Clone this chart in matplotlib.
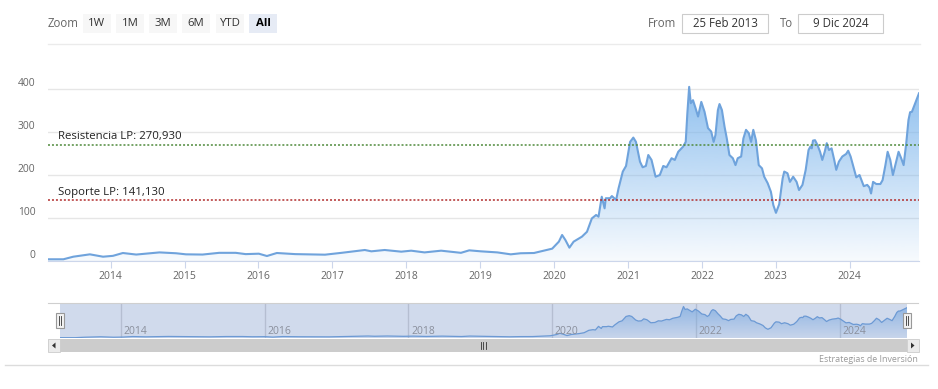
import numpy as np
import pandas as pd
import matplotlib
matplotlib.use("Agg")
from matplotlib import pyplot as plt
import matplotlib.dates as mdates
from matplotlib.colors import to_rgb
from matplotlib.patches import Rectangle, Polygon
from matplotlib.transforms import blended_transform_factory

plt.rcParams["font.family"] = ["Open Sans", "DejaVu Sans"]

# chart data ------------------------------
dates = [
    "2013-02-25", "2013-05-12", "2013-06-30", "2013-09-20", "2013-11-24",
    "2014-01-12", "2014-03-02", "2014-05-07", "2014-08-30", "2014-11-20",
    "2015-01-08", "2015-03-31", "2015-06-21", "2015-09-11", "2015-10-30",
    "2016-01-03", "2016-02-12", "2016-04-01", "2016-07-01", "2016-11-25",
    "2017-02-15", "2017-06-10", "2017-07-12", "2017-09-16", "2017-12-07",
    "2018-01-25", "2018-04-01", "2018-06-22", "2018-09-28", "2018-11-08",
    "2019-01-04", "2019-03-27", "2019-06-01", "2019-07-20", "2019-09-24",
    "2019-11-12", "2019-12-23", "2020-01-25", "2020-02-10", "2020-02-26",
    "2020-03-17", "2020-04-07", "2020-05-18", "2020-06-12", "2020-07-06",
    "2020-07-27", "2020-08-08", "2020-08-24", "2020-09-07", "2020-09-13",
    "2020-10-04", "2020-10-13", "2020-11-03", "2020-11-15", "2020-12-06",
    "2020-12-22", "2021-01-11", "2021-01-27", "2021-02-09", "2021-03-01",
    "2021-03-14", "2021-03-30", "2021-04-11", "2021-04-27", "2021-05-17",
    "2021-06-07", "2021-06-24", "2021-07-10", "2021-08-04", "2021-08-20",
    "2021-09-06", "2021-09-30", "2021-10-13", "2021-10-21", "2021-10-30",
    "2021-11-07", "2021-11-18", "2021-12-01", "2021-12-13", "2021-12-29",
    "2022-01-14", "2022-01-31", "2022-02-16", "2022-02-28", "2022-03-09",
    "2022-03-21", "2022-03-29", "2022-04-10", "2022-04-23", "2022-05-04",
    "2022-05-17", "2022-06-03", "2022-06-16", "2022-06-27", "2022-07-14",
    "2022-07-25", "2022-08-07", "2022-08-21", "2022-09-01", "2022-09-12",
    "2022-09-25", "2022-10-09", "2022-10-25", "2022-11-05", "2022-11-22",
    "2022-12-08", "2022-12-20", "2023-01-02", "2023-01-18", "2023-02-04",
    "2023-02-12", "2023-02-28", "2023-03-12", "2023-03-28", "2023-04-14",
    "2023-04-26", "2023-05-13", "2023-05-29", "2023-06-12", "2023-06-21",
    "2023-06-28", "2023-07-04", "2023-07-14", "2023-07-26", "2023-08-08",
    "2023-08-19", "2023-08-31", "2023-09-10", "2023-09-21", "2023-10-04",
    "2023-10-17", "2023-10-27", "2023-11-09", "2023-11-26", "2023-12-15",
    "2023-12-25", "2024-01-06", "2024-01-22", "2024-02-03", "2024-02-19",
    "2024-03-03", "2024-03-11", "2024-03-28", "2024-04-08", "2024-04-16",
    "2024-04-26", "2024-05-12", "2024-06-01", "2024-06-12", "2024-06-26",
    "2024-07-07", "2024-07-20", "2024-08-02", "2024-08-14", "2024-08-30",
    "2024-09-12", "2024-09-24", "2024-10-07", "2024-10-18", "2024-10-26",
    "2024-11-04", "2024-12-09",
]
prices = [
    4, 4, 10, 15.5, 10,
    12, 18.6, 15, 20, 18,
    15.5, 15, 19, 19, 16,
    17, 11.6, 18.6, 16, 14.7,
    19, 25.6, 22.5, 25.6, 21.7,
    24, 20, 24, 19, 24.8,
    22.5, 20, 15.5, 18, 18.6,
    24, 28.7, 45, 60.5, 49,
    31, 45, 56.6, 68, 99,
    107, 103, 149.5, 122.5, 146,
    146, 151, 142, 169, 208,
    221, 277, 287, 277, 231,
    218, 221, 246.5, 235, 196,
    200, 221, 218, 239, 235,
    254, 266, 277, 343, 405,
    367, 374, 355, 336, 370,
    347, 309, 301, 277, 293,
    351, 365, 351, 312, 285,
    246.5, 239, 223, 239, 243,
    285, 305, 297, 277, 305,
    281, 223, 215.5, 196, 181,
    161, 130, 112, 132, 192,
    208, 204, 184, 196, 184,
    165, 177, 212, 258, 266,
    262, 280, 281, 270, 254,
    235, 254, 274, 258, 262,
    235, 212, 231, 243, 249,
    256.5, 243, 215.5, 194.6, 200,
    184, 174, 177, 171, 157,
    184, 179, 179, 188, 223,
    254, 235, 200, 223, 254,
    239, 223, 274, 328, 346,
    347, 390,
]
resistance = 270.93
support = 141.13
resistance_label = "Resistencia LP: 270,930"
support_label = "Soporte LP: 141,130"
y_ticks = [0, 100, 200, 300, 400]
main_years = list(range(2014, 2025))
nav_years = [2014, 2016, 2018, 2020, 2022, 2024]
zoom_buttons = ["1W", "1M", "3M", "6M", "YTD", "All"]
date_from = "25 Feb 2013"
date_to = "9 Dic 2024"
credit = "Estrategias de Inversión"

# colours -----
line_color = "#6fa3dc"
fill_color = "#7cb5ec"
grid_color = "#e6e6e6"
axis_color = "#ccd6eb"
label_color = "#666666"

W, H = 938, 389
x = mdates.date2num(pd.to_datetime(dates))
y = np.array(prices, dtype=float)


def px_box(left, top, right, bottom):
    """pixel box -> figure fraction [l, b, w, h]"""
    return [left / W, 1 - bottom / H, (right - left) / W, (bottom - top) / H]


def gradient_area(ax, xs, ys, ymax, a_top, a_bottom, z=1):
    poly = Polygon(np.column_stack([np.r_[xs[0], xs, xs[-1]], np.r_[0, ys, 0]]),
                   closed=True, facecolor="none", edgecolor="none")
    ax.add_patch(poly)
    rgba = np.zeros((256, 1, 4))
    rgba[..., :3] = to_rgb(fill_color)
    rgba[:, 0, 3] = np.linspace(a_top, a_bottom, 256)
    im = ax.imshow(rgba, extent=[xs[0], xs[-1], 0, ymax], aspect="auto",
                   origin="upper", zorder=z, interpolation="bilinear")
    im.set_clip_path(poly)


fig = plt.figure(figsize=(W / 100, H / 100), dpi=100)

# main chart -----
ymax = (261 - 75) / 0.43
ax = fig.add_axes(px_box(48, 75, 919, 261))
gradient_area(ax, x, y, ymax, 0.9, 0.06)
ax.plot(x, y, color=line_color, lw=1.5, zorder=3)
ax.axhline(resistance, color="#4f8a3c", lw=1.1, ls=(0, (1.3, 1.3)), zorder=4)
ax.axhline(support, color="#b22d2d", lw=1.1, ls=(0, (1.3, 1.3)), zorder=4)
ax.annotate(resistance_label, xy=(0, resistance), xycoords=("axes fraction", "data"),
            xytext=(7.5, 1.5), textcoords="offset points", va="bottom",
            fontsize=8.2, color="#222222", zorder=5)
ax.annotate(support_label, xy=(0, support), xycoords=("axes fraction", "data"),
            xytext=(7.5, 1.5), textcoords="offset points", va="bottom",
            fontsize=8.2, color="#222222", zorder=5)
ax.set_xlim(x[0], x[-1])
ax.set_ylim(0, ymax)
ax.set_yticks(y_ticks)
ax.set_yticklabels([str(v) for v in y_ticks])
ax.yaxis.grid(True, color=grid_color, lw=1)
ax.set_axisbelow(True)
ax.tick_params(axis="y", length=0, pad=9.0, labelcolor=label_color)
for lab in ax.get_yticklabels():
    lab.set_verticalalignment("bottom")
    lab.set_fontfamily(["Liberation Sans Narrow", "Open Sans"])
    lab.set_fontsize(7.4)
ax.set_xticks(mdates.date2num(pd.to_datetime([f"{yr}-01-01" for yr in main_years])))
ax.set_xticklabels([str(yr) for yr in main_years])
ax.tick_params(axis="x", length=5, color=axis_color, pad=2.5, labelsize=7.5,
               labelcolor=label_color)
for side in ["top", "right", "left"]:
    ax.spines[side].set_visible(False)
ax.spines["bottom"].set_color(axis_color)
ax.patch.set_alpha(0)

# navigator -----
nav = fig.add_axes(px_box(60, 303, 907, 338))
nav_ymax = 450
gradient_area(nav, x, y, nav_ymax, 0.75, 0.1)
nav.plot(x, y, color=line_color, lw=0.9, zorder=3)
nav.set_xlim(x[0], x[-1])
nav.set_ylim(0, nav_ymax)
nav_ticks = mdates.date2num(pd.to_datetime([f"{yr}-01-01" for yr in nav_years]))
nav.set_xticks(nav_ticks)
nav.set_xticklabels([])
nav.set_yticks([])
nav.tick_params(axis="x", length=0)
nav.xaxis.grid(True, color="#d8d8d8", lw=1)
nav.set_axisbelow(True)
for side in nav.spines:
    nav.spines[side].set_visible(False)
nav.add_patch(Rectangle((0, 0), 1, 1, transform=nav.transAxes,
                        facecolor=(102 / 255, 133 / 255, 194 / 255, 0.3),
                        edgecolor="none", zorder=6))
trans = blended_transform_factory(nav.transData, nav.transAxes)
for t, yr in zip(nav_ticks, nav_years):
    nav.annotate(str(yr), xy=(t, 0.0), xycoords=trans, xytext=(2, 0.5),
                 textcoords="offset points", va="bottom", ha="left",
                 fontsize=7.5, color="#8a8f9c", zorder=7)

# interface parts drawn in pixel space -----
ui = fig.add_axes([0, 0, 1, 1])
ui.set_xlim(0, W)
ui.set_ylim(H, 0)
ui.axis("off")

ui.text(48, 23.5, "Zoom", fontsize=8.3, color=label_color, va="center", ha="left")
btn_left = [83, 116, 149, 182, 216, 249]
for bx, name in zip(btn_left, zoom_buttons):
    sel = name == "All"
    ui.add_patch(Rectangle((bx, 14), 28, 19, facecolor="#e6ebf5" if sel else "#f7f7f7",
                           edgecolor="none"))
    ui.text(bx + 14, 23.5, name, fontsize=8.2, va="center", ha="center",
            color="#000000" if sel else "#333333",
            fontweight="bold" if sel else "normal")

ui.text(662, 23.5, "From", fontsize=8.3, color=label_color, va="center", ha="center")
ui.add_patch(Rectangle((682, 14), 86, 19, facecolor="white", edgecolor="#cccccc", lw=0.8))
ui.text(725, 23.5, date_from, fontsize=8.3, color="#333333", va="center", ha="center")
ui.text(787, 23.5, "To", fontsize=8.3, color=label_color, va="center", ha="center")
ui.add_patch(Rectangle((798, 14), 85, 19, facecolor="white", edgecolor="#cccccc", lw=0.8))
ui.text(840.5, 23.5, date_to, fontsize=8.3, color="#333333", va="center", ha="center")

ui.plot([48, 920], [44, 44], color="#ebebeb", lw=1)
ui.plot([48, 918], [303, 303], color="#cfcfcf", lw=0.8)
ui.plot([5, 928], [365, 365], color="#dcdcdc", lw=1)

# navigator handles
for hx in [60, 906.5]:
    ui.add_patch(Rectangle((hx - 4, 313), 8, 15, facecolor="#f2f2f2",
                           edgecolor="#999999", lw=0.8, zorder=8))
    ui.plot([hx - 1, hx - 1], [316, 325], color="#333333", lw=0.6, zorder=9)
    ui.plot([hx + 1, hx + 1], [316, 325], color="#333333", lw=0.6, zorder=9)

# scrollbar
ui.add_patch(Rectangle((48, 339), 870, 13, facecolor="#f2f2f2", edgecolor="none"))
ui.add_patch(Rectangle((60, 339), 846.5, 13, facecolor="#cccccc", edgecolor="none"))
ui.add_patch(Rectangle((48, 339), 12, 13, facecolor="#ebebeb", edgecolor="#cccccc", lw=0.6))
ui.add_patch(Rectangle((906.5, 339), 12, 13, facecolor="#ebebeb", edgecolor="#cccccc", lw=0.6))
ui.add_patch(Polygon([[55.5, 342.5], [55.5, 348.5], [52, 345.5]], closed=True,
                     facecolor="#333333", edgecolor="none"))
ui.add_patch(Polygon([[911, 342.5], [911, 348.5], [914.5, 345.5]], closed=True,
                     facecolor="#333333", edgecolor="none"))
for gx in [481, 483.3, 485.6]:
    ui.plot([gx, gx], [342, 348.5], color="#333333", lw=0.6)

ui.text(918, 359, credit, fontsize=6.4, color="#999999", ha="right", va="center")

fig.savefig("out.png", dpi=100)
